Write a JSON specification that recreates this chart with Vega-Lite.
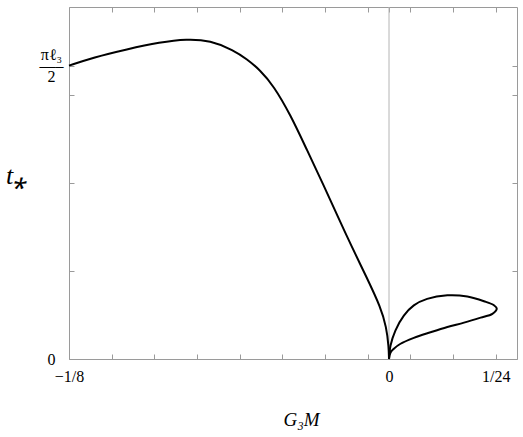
{
  "$schema": "https://vega.github.io/schema/vega-lite/v6.json",
  "width": 448,
  "height": 352,
  "autosize": {"type": "none"},
  "padding": {"left": 69, "top": 7, "right": 6, "bottom": 78},
  "config": {
    "view": {"stroke": "#9a9a9a", "strokeWidth": 1},
    "axis": {
      "domain": false,
      "grid": false,
      "tickColor": "#9a9a9a",
      "tickSize": -5,
      "labelFont": "Liberation Serif",
      "labelFontSize": 16,
      "labelColor": "#000000",
      "labelOverlap": false,
      "labelFlush": false,
      "labelBound": false,
      "titleFont": "Liberation Serif",
      "titleColor": "#000000",
      "titleFontWeight": "normal",
      "titleFontStyle": "italic"
    }
  },
  "datasets": {
    "main": [
      {"x": -0.125, "y": 1.0},
      {"x": -0.1155, "y": 1.028},
      {"x": -0.1024, "y": 1.056},
      {"x": -0.0894, "y": 1.08},
      {"x": -0.079, "y": 1.091},
      {"x": -0.0698, "y": 1.086},
      {"x": -0.0607, "y": 1.0529},
      {"x": -0.0555, "y": 1.0222},
      {"x": -0.0503, "y": 0.9846},
      {"x": -0.0451, "y": 0.9317},
      {"x": -0.0385, "y": 0.8328},
      {"x": -0.032, "y": 0.7116},
      {"x": -0.0255, "y": 0.592},
      {"x": -0.0196, "y": 0.478},
      {"x": -0.0151, "y": 0.393},
      {"x": -0.0085, "y": 0.274},
      {"x": -0.0033, "y": 0.177},
      {"x": -0.001, "y": 0.109},
      {"x": -0.0001, "y": 0.04},
      {"x": 0, "y": 0}
    ],
    "loop": [
      {"ord": 1, "x": 0, "y": 0},
      {"ord": 2, "x": 0.0006, "y": 0.046},
      {"ord": 3, "x": 0.0025, "y": 0.097},
      {"ord": 4, "x": 0.0058, "y": 0.148},
      {"ord": 5, "x": 0.0097, "y": 0.183},
      {"ord": 6, "x": 0.0149, "y": 0.205},
      {"ord": 7, "x": 0.0228, "y": 0.217},
      {"ord": 8, "x": 0.0306, "y": 0.213},
      {"ord": 9, "x": 0.0371, "y": 0.197},
      {"ord": 10, "x": 0.041, "y": 0.183},
      {"ord": 11, "x": 0.0421, "y": 0.171},
      {"ord": 12, "x": 0.0404, "y": 0.154},
      {"ord": 13, "x": 0.0358, "y": 0.141},
      {"ord": 14, "x": 0.0293, "y": 0.124},
      {"ord": 15, "x": 0.0228, "y": 0.109},
      {"ord": 16, "x": 0.0162, "y": 0.091},
      {"ord": 17, "x": 0.0097, "y": 0.072},
      {"ord": 18, "x": 0.0045, "y": 0.052},
      {"ord": 19, "x": 0.0019, "y": 0.035},
      {"ord": 20, "x": 0.0006, "y": 0.022},
      {"ord": 21, "x": 0, "y": 0}
    ]
  },
  "layer": [
    {
      "data": {"values": [{"k": 0}]},
      "mark": {"type": "rule", "color": "#b4b4b4", "strokeWidth": 1},
      "encoding": {
        "x": {
          "datum": 0,
          "type": "quantitative",
          "scale": {"domain": [-0.125, 0.05], "nice": false, "zero": false},
          "axis": {
            "orient": "top",
            "title": null,
            "labels": false,
            "values": [-0.125, -0.108333, -0.091667, -0.075, -0.058333, -0.041667, -0.025, -0.008333, 0, 0.008333, 0.025, 0.041667]
          }
        },
        "y": {
          "datum": 0,
          "type": "quantitative",
          "scale": {"domain": [0, 1.2], "nice": false},
          "axis": {"orient": "right", "title": null, "labels": false, "values": [0, 0.3, 0.6, 0.9, 1]}
        },
        "y2": {"datum": 1.2}
      }
    },
    {
      "data": {"name": "main"},
      "mark": {"type": "line", "color": "#000000", "strokeWidth": 2, "interpolate": "basis"},
      "encoding": {
        "x": {
          "field": "x",
          "type": "quantitative",
          "scale": {"domain": [-0.125, 0.05], "nice": false, "zero": false},
          "axis": {
            "orient": "bottom",
            "title": "G₃M",
            "titleFontSize": 19,
            "titleX": 232,
            "titleY": 60,
            "titleAlign": "center",
            "titleBaseline": "middle",
            "labelPadding": 14,
            "labelExpr": "datum.value == -0.125 ? '−1/8' : (datum.value == 0 ? '0' : (datum.value > 0.04 ? '1/24' : ''))",
            "values": [-0.125, -0.108333, -0.091667, -0.075, -0.058333, -0.041667, -0.025, -0.008333, 0, 0.008333, 0.025, 0.041667]
          }
        },
        "y": {
          "field": "y",
          "type": "quantitative",
          "scale": {"domain": [0, 1.2], "nice": false},
          "axis": {
            "orient": "left",
            "title": "t⁎",
            "titleFontSize": 26,
            "titleAngle": 0,
            "titleX": -53,
            "titleY": 168,
            "titleAlign": "center",
            "titleBaseline": "middle",
            "labelAlign": "center",
            "labelBaseline": "middle",
            "labelPadding": 23,
            "labelLineHeight": 11,
            "labelOffset": {"condition": {"test": "datum.value == 1", "value": -11}, "value": 0},
            "labelExpr": "datum.value == 0 ? '0' : (datum.value == 1 ? ['πℓ₃', '—–', '2'] : '')",
            "values": [0, 0.3, 0.6, 0.9, 1]
          }
        }
      }
    },
    {
      "data": {"name": "loop"},
      "mark": {"type": "line", "color": "#000000", "strokeWidth": 2, "interpolate": "catmull-rom"},
      "encoding": {
        "x": {"field": "x", "type": "quantitative", "axis": null},
        "y": {"field": "y", "type": "quantitative", "axis": null},
        "order": {"field": "ord", "type": "quantitative"}
      }
    }
  ],
  "resolve": {"axis": {"x": "independent", "y": "independent"}}
}
